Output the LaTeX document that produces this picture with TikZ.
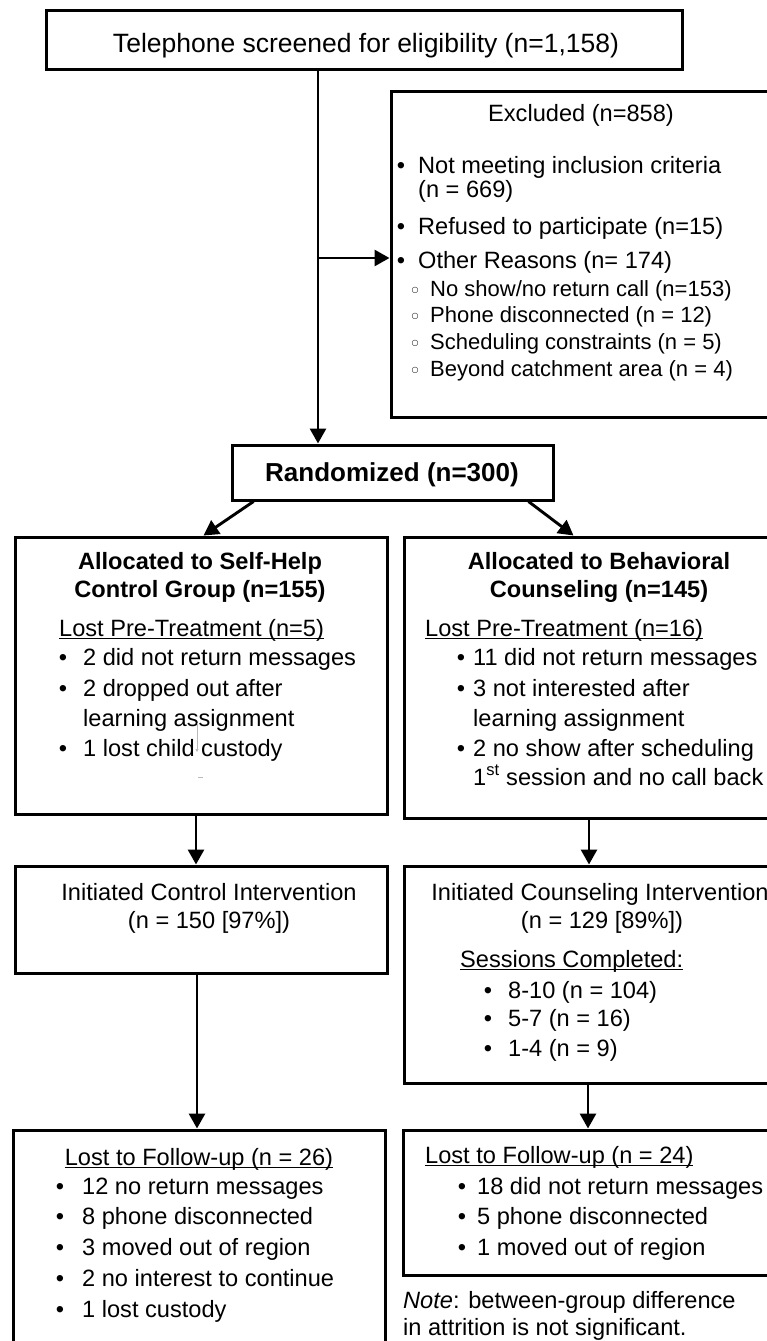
\documentclass[tikz,border=0pt]{standalone}
\usepackage{fontspec}
\setmainfont{Liberation Sans}
\newfontfamily\dejavu{DejaVu Sans}
\usetikzlibrary{arrows.meta,fit,calc}
\newcommand\myul[1]{\setbox0\hbox{#1}\rlap{\rule[-3.4pt]{\wd0}{1.5pt}}\box0}
\tikzset{
  box/.style={draw, line width=3pt, inner sep=0pt},
  txt/.style={inner sep=0pt, font=\fontsize{23.6}{28}\selectfont},
  bigb/.style={inner sep=0pt, font=\fontsize{26}{30}\selectfont\bfseries},
  big/.style={inner sep=0pt, font=\fontsize{26.5}{30}\selectfont},
  hd/.style={inner sep=0pt, font=\fontsize{23.6}{28}\selectfont\bfseries},
  sub/.style={inner sep=0pt, font=\fontsize{22}{26}\selectfont},
  circ/.style={inner sep=0pt, font=\dejavu\fontsize{8}{8}\selectfont},
  arr/.style={line width=2.9pt, -{Triangle[width=16pt,length=15pt]}},
}
\begin{document}
\begin{tikzpicture}[x=1pt,y=-1pt]
\useasboundingbox (0,0) rectangle (767,1341);
\clip (0,0) rectangle (767,1341);
\fill[white] (0,0) rectangle (767,1341);

% ---- top box
\node[box, fit={(46,10)(682,69)}] (top) {};
\node[big, anchor=base] (ttop) at (366,52) {Telephone screened for eligibility (n=1,158)};

% ---- excluded box
\node[box, fit={(391,91)(771,417)}] (excl) {};
\node[txt, anchor=base] (ex0) at (581,121) {Excluded (n=858)};
\node[txt, anchor=base] (exb1) at (401,173) {•};
\node[txt, anchor=base west] (ex1) at (418,173) {Not meeting inclusion criteria};
\node[txt, anchor=base west] (ex1b) at (418,197) {(n = 669)};
\node[txt, anchor=base] (exb2) at (401,234) {•};
\node[txt, anchor=base west] (ex2) at (418,234) {Refused to participate (n=15)};
\node[txt, anchor=base] (exb3) at (401,268) {•};
\node[txt, anchor=base west] (ex3) at (418,268) {Other Reasons (n= 174)};
\node[circ] (exc1) at (415,290) {○};
\node[sub, anchor=base west] (exs1) at (430,296) {No show/no return call (n=153)};
\node[circ] (exc2) at (415,316) {○};
\node[sub, anchor=base west] (exs2) at (430,322) {Phone disconnected (n = 12)};
\node[circ] (exc3) at (415,343) {○};
\node[sub, anchor=base west] (exs3) at (430,349) {Scheduling constraints (n = 5)};
\node[circ] (exc4) at (415,370) {○};
\node[sub, anchor=base west] (exs4) at (430,376) {Beyond catchment area (n = 4)};

% ---- randomized
\node[box, fit={(232,445)(553,500)}] (rand) {};
\node[bigb, anchor=base] (trand) at (392,481) {Randomized (n=300)};

% ---- allocated left
\node[box, fit={(15,537)(387,814)}] (al) {};
\node[hd, anchor=base] (al1) at (200,569) {Allocated to Self-Help};
\node[hd, anchor=base] (al2) at (200,597) {Control Group (n=155)};
\node[txt, anchor=base west] (al3) at (59,636) {\myul{Lost Pre-Treatment (n=5)}};
\node[txt, anchor=base] (alb1) at (63,665) {•};
\node[txt, anchor=base west] (al4) at (83,665) {2 did not return messages};
\node[txt, anchor=base] (alb2) at (63,696) {•};
\node[txt, anchor=base west] (al5) at (83,696) {2 dropped out after};
\node[txt, anchor=base west] (al6) at (83,726) {learning assignment};
\node[txt, anchor=base] (alb3) at (63,756) {•};
\node[txt, anchor=base west] (al7) at (83,756) {1 lost child custody};
\draw[gray!55, line width=0.7pt, -{Triangle[width=3pt,length=3pt]}] (197,723) -- (197,752);
\draw[gray!55, line width=0.8pt] (198,777) -- (203,777);

% ---- allocated right
\node[box, fit={(404,537)(796,818)}] (ar) {};
\node[hd, anchor=base] (ar1) at (599,569) {Allocated to Behavioral};
\node[hd, anchor=base] (ar2) at (599,597) {Counseling (n=145)};
\node[txt, anchor=base west] (ar3) at (425,636) {\myul{Lost Pre-Treatment (n=16)}};
\node[txt, anchor=base] (arb1) at (461,665) {•};
\node[txt, anchor=base west] (ar4) at (473,665) {11 did not return messages};
\node[txt, anchor=base] (arb2) at (461,696) {•};
\node[txt, anchor=base west] (ar5) at (473,696) {3 not interested after};
\node[txt, anchor=base west] (ar6) at (473,726) {learning assignment};
\node[txt, anchor=base] (arb3) at (461,756) {•};
\node[txt, anchor=base west] (ar7) at (473,756) {2 no show after scheduling};
\node[txt, anchor=base west] (ar8) at (473,785) {1\textsuperscript{st} session and no call back};

% ---- intervention left
\node[box, fit={(15,866)(387,973)}] (il) {};
\node[txt, anchor=base] (il1) at (209,900) {Initiated Control Intervention};
\node[txt, anchor=base] (il2) at (209,928) {(n = 150 [97\%])};

% ---- intervention right
\node[box, fit={(404,866)(796,1083)}] (ir) {};
\node[txt, anchor=base] (ir1) at (600,900) {Initiated Counseling Intervention};
\node[txt, anchor=base] (ir2) at (602,928) {(n = 129 [89\%])};
\node[txt, anchor=base west] (ir3) at (460,967) {\myul{Sessions Completed:}};
\node[txt, anchor=base] (irb1) at (488,998) {•};
\node[txt, anchor=base west] (ir4) at (508,998) {8-10 (n = 104)};
\node[txt, anchor=base] (irb2) at (488,1026) {•};
\node[txt, anchor=base west] (ir5) at (508,1026) {5-7 (n = 16)};
\node[txt, anchor=base] (irb3) at (488,1056) {•};
\node[txt, anchor=base west] (ir6) at (508,1056) {1-4 (n = 9)};

% ---- follow-up left
\node[box, fit={(13,1130)(385,1362)}] (fl) {};
\node[txt, anchor=base] (fl0) at (199,1165) {\myul{Lost to Follow-up (n = 26)}};
\node[txt, anchor=base] (flb1) at (60,1194) {•};
\node[txt, anchor=base west] (fl1) at (82,1194) {12 no return messages};
\node[txt, anchor=base] (flb2) at (60,1224) {•};
\node[txt, anchor=base west] (fl2) at (82,1224) {8 phone disconnected};
\node[txt, anchor=base] (flb3) at (60,1255) {•};
\node[txt, anchor=base west] (fl3) at (82,1255) {3 moved out of region};
\node[txt, anchor=base] (flb4) at (60,1286) {•};
\node[txt, anchor=base west] (fl4) at (82,1286) {2 no interest to continue};
\node[txt, anchor=base] (flb5) at (60,1317) {•};
\node[txt, anchor=base west] (fl5) at (82,1317) {1 lost custody};

% ---- follow-up right
\node[box, fit={(403,1130)(796,1275)}] (fr) {};
\node[txt, anchor=base west] (fr0) at (425,1163) {\myul{Lost to Follow-up (n = 24)}};
\node[txt, anchor=base] (frb1) at (462,1194) {•};
\node[txt, anchor=base west] (fr1) at (477,1194) {18 did not return messages};
\node[txt, anchor=base] (frb2) at (462,1224) {•};
\node[txt, anchor=base west] (fr2) at (477,1224) {5 phone disconnected};
\node[txt, anchor=base] (frb3) at (462,1255) {•};
\node[txt, anchor=base west] (fr3) at (477,1255) {1 moved out of region};

% ---- note
\node[txt, anchor=base west] (note1) at (403,1308) {\textit{Note}: between-group difference};
\node[txt, anchor=base west] (note2) at (403,1335) {in attrition is not significant.};

% ---- connectors
\coordinate (j) at (318,258);
\draw[arr] (j |- top.south) -- (j |- rand.north);
\draw[arr] (j) -- (j -| excl.west);
\draw[arr] ($(rand.south west)+(23,0)$) -- ($(al.north west)+(190,0)$);
\draw[arr] ($(rand.south east)+(-26,0)$) -- ($(ar.north west)+(171,0)$);
\coordinate (c1) at (196,840);
\coordinate (c2) at (589,840);
\coordinate (c3) at (197,1100);
\coordinate (c4) at (588,1100);
\draw[arr] (c1 |- al.south) -- (c1 |- il.north);
\draw[arr] (c2 |- ar.south) -- (c2 |- ir.north);
\draw[arr] (c3 |- il.south) -- (c3 |- fl.north);
\draw[arr] (c4 |- ir.south) -- (c4 |- fr.north);
\end{tikzpicture}
\end{document}
